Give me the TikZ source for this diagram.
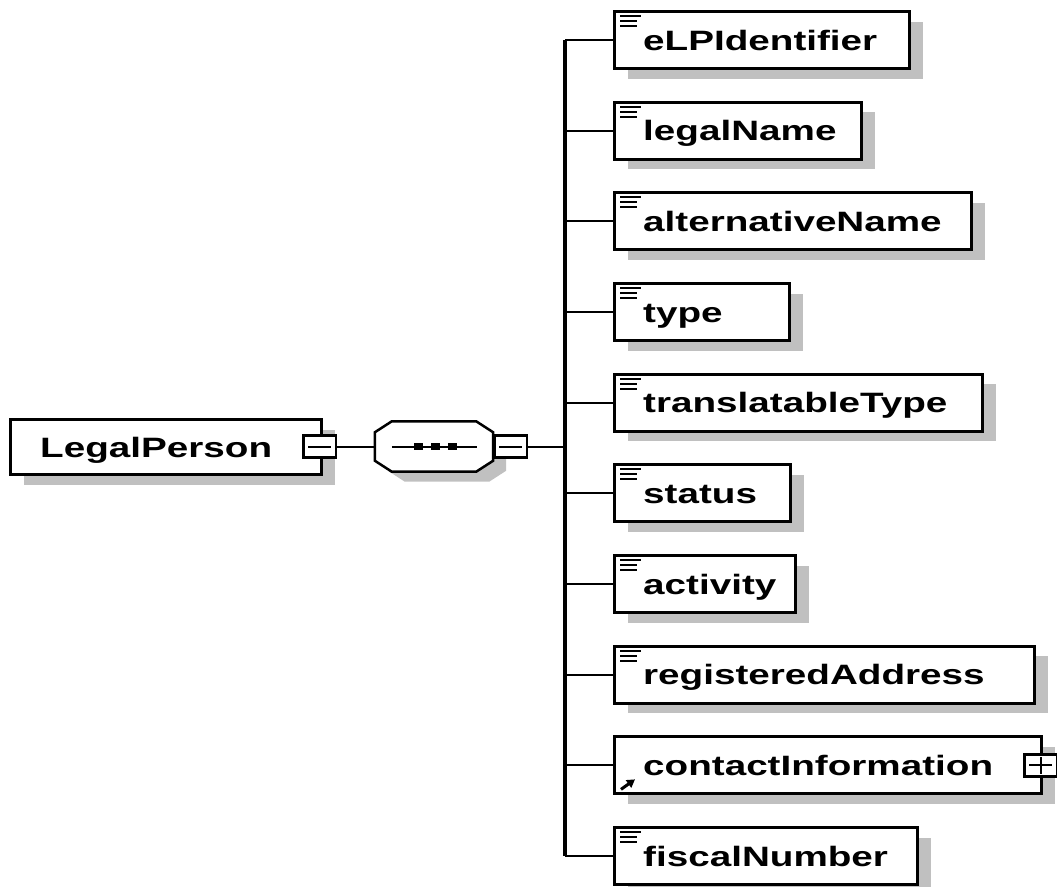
\documentclass[tikz,border=0pt]{standalone}
\usepackage{fontspec}
\newfontfamily\xsdfont{Liberation Sans}[FakeStretch=1.38]
\usetikzlibrary{shadows,arrows.meta}
\definecolor{shadowgray}{RGB}{192,192,192}
\tikzset{
	elem/.style={draw, line width=3pt, fill=white, anchor=north west, minimum height=57pt, inner sep=0pt,
		drop shadow={shadow xshift=13pt, shadow yshift=-10pt, fill=shadowgray, opacity=1}},
	lbl/.style={anchor=base west, inner sep=0pt, font=\xsdfont\bfseries\fontsize{28}{30}\selectfont},
	toggle/.style={draw, line width=2.5pt, fill=white, minimum width=32.5pt, minimum height=22pt, inner sep=0pt},
	conn/.style={line width=2pt},
	icon/.style={line width=2pt},
	dot/.style={fill=black, minimum width=9pt, minimum height=7pt, inner sep=0pt},
}
\begin{document}
\begin{tikzpicture}[x=1pt, y=-1pt]
	\useasboundingbox (0,0) rectangle (1057,886);
	% root element
	\node[elem, minimum width=311pt, minimum height=55pt] (root) at (9,418) {};
	\node[lbl] (root-t) at ([xshift=31pt,yshift=-10pt]root.west) {LegalPerson};
	\node[toggle] (rootminus) at (319.5,446.5) {};
	\draw[conn] ([xshift=6pt]rootminus.west) -- ([xshift=-6pt]rootminus.east);
	
	% sequence compositor
	\node[inner sep=0pt, minimum width=118pt, minimum height=50pt] (seq) at (434,446.5) {};
	\draw[line width=2.5pt, fill=white, preaction={fill=shadowgray, transform canvas={xshift=13pt, yshift=-10pt}}]
		([xshift=17pt]seq.north west) -- ([xshift=-17pt]seq.north east) -- ([yshift=-11pt]seq.north east)
		-- ([yshift=11pt]seq.south east) -- ([xshift=-17pt]seq.south east) -- ([xshift=17pt]seq.south west)
		-- ([yshift=11pt]seq.south west) -- ([yshift=-11pt]seq.north west) -- cycle;
	\draw[conn] ([xshift=17pt]seq.west) -- ([xshift=-16pt]seq.east);
	\foreach \k in {0,1,2}
		\node[dot] (dot\k) at (418.5+17*\k,446.5) {};
	\node[toggle, anchor=west] (seqminus) at (seq.east) {};
	\draw[conn] ([xshift=6pt]seqminus.west) -- ([xshift=-6pt]seqminus.east);
	\draw[conn] (rootminus.east) -- (seq.west);
	
	% child elements
	\coordinate (spine) at (565,0);
	\foreach \i/\name/\txt/\w in {0/eid/eLPIdentifier/295, 1/lname/legalName/247,
		2/altname/alternativeName/357, 3/etype/type/175, 4/ttype/translatableType/368,
		5/status/status/176, 6/activity/activity/181, 7/regaddr/registeredAddress/420,
		8/contact/contactInformation/427, 9/fnum/fiscalNumber/303}{
		\pgfmathsetmacro\ytop{10+90.67*\i}
		\node[elem, minimum width=\w pt] (\name) at (613,\ytop) {};
		\node[lbl] (\name-t) at ([xshift=30pt,yshift=-10pt]\name.west) {\txt};
		\draw[conn] (\name.west -| spine) -- (\name.west);
	}
	\draw[line width=4pt] (eid.west -| spine) -- (fnum.west -| spine);
	\draw[conn] (seqminus.east) -- (seqminus.east -| spine);
	
	% icons
	\foreach \name in {eid,lname,altname,etype,ttype,status,activity,regaddr,fnum}{
		\draw[icon] ([xshift=7pt,yshift=-6pt]\name.north west) -- ++(21,0);
		\draw[icon] ([xshift=7pt,yshift=-11pt]\name.north west) -- ++(17,0);
		\draw[icon] ([xshift=7pt,yshift=-16pt]\name.north west) -- ++(17,0);
	}
	\draw[line width=3pt, -{Triangle[length=8pt,width=9pt]}] ([xshift=8pt,yshift=6pt]contact.south west) -- ++(14,-10);
	\node[toggle, anchor=west] (contactplus) at ([xshift=-20pt]contact.east) {};
	\draw[conn] ([xshift=6pt]contactplus.west) -- ([xshift=-6pt]contactplus.east);
	\draw[conn] ([yshift=-4pt]contactplus.north) -- ([yshift=4pt]contactplus.south);
\end{tikzpicture}
\end{document}
